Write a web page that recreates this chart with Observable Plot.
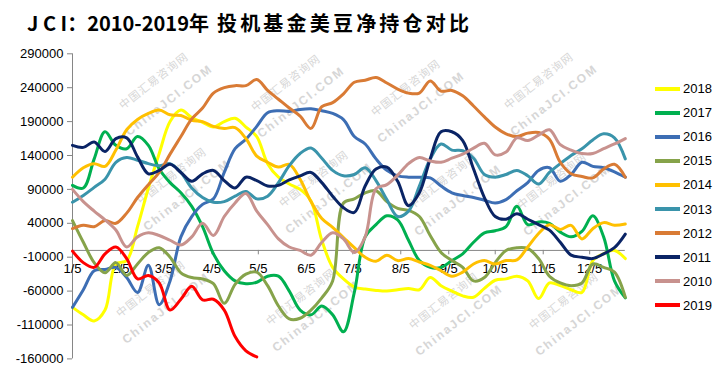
<!DOCTYPE html>
<html><head><meta charset="utf-8">
<script src="https://cdn.jsdelivr.net/npm/d3@7"></script>
<script src="https://cdn.jsdelivr.net/npm/@observablehq/plot@0.6"></script>
<style>
html,body{margin:0;padding:0;background:#fff;}
#wrap{position:relative;width:719px;height:389px;overflow:hidden;font-family:"Liberation Sans",Arial,sans-serif;}
#title{position:absolute;left:27px;top:12px;font-family:"Noto Sans CJK SC",sans-serif;font-weight:700;font-size:20px;line-height:22px;color:#000;white-space:nowrap;}
#title .a{letter-spacing:0px}
#title .b{letter-spacing:3.2px;margin-left:8px}
#wm{position:absolute;left:0;top:0;width:719px;height:389px;z-index:0;}
#wm div{position:absolute;color:#d6d6d6;white-space:nowrap;transform:translate(-50%,-50%) rotate(-38deg);}
#wm .cn{font-family:"Noto Sans CJK SC";font-size:11px;letter-spacing:1px}
#wm .en{font-family:"Liberation Sans";font-weight:bold;font-size:12px;letter-spacing:2px}
#chart{position:absolute;left:0;top:40px;z-index:1;}
#legend{position:absolute;left:0;top:0;z-index:2;}
#legend .row{position:absolute;left:655px;height:16px;display:flex;align-items:center;}
#legend .sw{width:25px;height:4px;}
#legend .lb{margin-left:3px;font-size:13px;color:#000;font-family:"Liberation Sans",Arial,sans-serif;}
</style>
</head><body>
<div id="wrap">
  <div id="wm"></div>
  <div id="title"><span class="a">J C I：2010-2019年</span><span class="b">投机基金美豆净持仓对比</span></div>
  <div id="chart"></div>
  <div id="legend"></div>
</div>
<script>
// ---- data ----
const weeks = ["01-05","01-12","01-19","01-26","02-02","02-09","02-16","02-23","03-02","03-09","03-16","03-23","03-30",
  "04-06","04-13","04-20","04-27","05-04","05-11","05-18","05-25","06-01","06-08","06-15","06-22","06-29",
  "07-06","07-13","07-20","07-27","08-03","08-10","08-17","08-24","08-31","09-07","09-14","09-21","09-28",
  "10-05","10-12","10-19","10-26","11-02","11-09","11-16","11-23","11-30","12-07","12-14","12-21","12-28"];
const xTickDates = ["01-05","02-05","03-05","04-05","05-05","06-05","07-05","08-05","09-05","10-05","11-05","12-05"];
const xTickLabels = ["1/5","2/5","3/5","4/5","5/5","6/5","7/5","8/5","9/5","10/5","11/5","12/5"];
const yTicks = [-160000,-110000,-60000,-10000,40000,90000,140000,190000,240000,290000];

const years = ["2018","2017","2016","2015","2014","2013","2012","2011","2010","2019"];
const colors = ["#FFFF00","#00B050","#3D6EB4","#86A34A","#FFC000","#3A94AB","#D97B35","#0A2465","#C8928E","#FF0000"];

const s2018 = [-84000,-95000,-104000,-88000,-20000,-15000,35000,92000,143000,190000,207000,196000,189000,182000,190000,195000,182000,168000,128000,108000,98000,90000,73000,15000,-25000,-42000,-54000,-57000,-59000,-60000,-58000,-56000,-58000,-40000,-52000,-60000,-67000,-69000,-56000,-44000,-42000,-38000,-45000,-71000,-48000,-52000,-58000,-62000,-15000,-5000,0,-12000];
const s2017 = [96000,92000,135000,175000,155000,150000,168000,155000,120000,100000,85000,65000,35000,-5000,-30000,-45000,-49000,-47000,-38000,-38000,-60000,-88000,-95000,-82000,-95000,-120000,-62000,20000,38000,51000,45000,15000,-15000,-25000,-25000,-15000,-5000,12000,26000,29000,35000,65000,38000,42000,40000,27000,20000,28000,51000,20000,-45000,-70000];
const s2016 = [-84000,-58000,-30000,-28000,-25000,-40000,-62000,-22000,-80000,-45000,20000,50000,68000,76000,115000,150000,164000,183000,203000,206000,205000,208000,209000,206000,202000,193000,168000,157000,135000,118000,110000,108000,108000,107000,95000,85000,81000,78000,74000,70000,75000,88000,100000,118000,122000,102000,112000,130000,124000,122000,116000,108000];
const s2015 = [44000,12000,-18000,-33000,-18000,-37000,-20000,-3000,4000,-10000,-33000,-40000,-42000,-49000,-78000,-50000,-35000,-32000,-52000,-82000,-101000,-100000,-88000,-70000,-45000,70000,76000,85000,88000,72000,62000,59000,50000,22000,-3000,-15000,-25000,-45000,-40000,-18000,0,4000,3000,-12000,-38000,-48000,-52000,-48000,-20000,-25000,-32000,-69000];
const s2014 = [108000,122000,128000,124000,148000,178000,193000,202000,207000,200000,199000,192000,190000,183000,180000,181000,165000,139000,130000,123000,127000,105000,72000,47000,34000,19000,4000,-10000,-16000,-7000,-15000,-12000,-17000,-22000,-30000,-38000,-32000,-20000,-15000,-20000,-15000,-14000,5000,25000,38000,31000,37000,17000,32000,41000,37000,39000];
const s2013 = [71000,81000,93000,105000,130000,137000,133000,128000,125000,128000,115000,92000,78000,71000,72000,80000,87000,76000,80000,100000,125000,143000,151000,136000,118000,110000,112000,122000,103000,75000,50000,58000,95000,135000,157000,148000,147000,136000,112000,108000,112000,118000,110000,98000,115000,128000,140000,150000,163000,172000,166000,135000];
const s2012 = [32000,37000,35000,44000,40000,55000,78000,97000,115000,142000,168000,194000,210000,232000,240000,243000,243000,252000,236000,223000,210000,198000,180000,212000,218000,231000,248000,251000,255000,247000,238000,232000,232000,250000,235000,236000,228000,213000,197000,182000,172000,168000,173000,174000,164000,130000,113000,109000,107000,120000,127000,108000];
const s2011 = [155000,152000,160000,146000,165000,166000,138000,113000,118000,127000,115000,102000,113000,118000,103000,92000,108000,103000,95000,96000,104000,110000,115000,100000,80000,63000,56000,95000,120000,123000,102000,66000,85000,135000,175000,175000,162000,120000,78000,50000,46000,54000,46000,38000,30000,12000,-7000,-10000,-12000,-5000,4000,24000];
const s2010 = [90000,72000,58000,45000,30000,5000,20000,26000,22000,15000,8000,20000,40000,22000,50000,70000,84000,58000,38000,17000,5000,0,-7000,12000,26000,17000,-3000,20000,91000,97000,111000,128000,137000,132000,130000,136000,142000,151000,158000,141000,145000,166000,162000,170000,178000,156000,148000,143000,143000,150000,157000,165000];
const s2019 = [-1000,-18000,-25000,-5000,5000,-12000,-42000,-37000,-48000,-88000,-72000,-53000,-73000,-72000,-88000,-127000,-148000,-157000];

const series = [s2018,s2017,s2016,s2015,s2014,s2013,s2012,s2011,s2010,s2019];

// ---- build table ----
const parse = d3.utcParse("%Y-%m-%d");
const dates = weeks.map(w => parse("2019-" + w));
const tickDates = xTickDates.map(w => parse("2019-" + w));
const rows = [];
years.forEach((y, i) => series[i].forEach((v, j) => rows.push({year: y, date: dates[j], value: v})));

const W = 719, H = 349;
const chart = Plot.plot({
  width: W, height: H,
  marginLeft: 72, marginRight: 94.2, marginTop: 13.3, marginBottom: 30.6,
  x: {type: "utc", domain: [dates[0], dates[dates.length - 1]], axis: null},
  y: {domain: [-160000, 290000]},
  color: {domain: years, range: colors},
  style: {fontFamily: "'Liberation Sans', Arial, sans-serif", fontSize: "13px", color: "#000", background: "transparent", overflow: "visible"},
  marks: [
    Plot.axisY({ticks: yTicks, tickSize: 5, tickPadding: 4, tickFormat: d => String(d), stroke: "#868686", fill: "#000", label: null, fontSize: 13}),
    Plot.ruleX([dates[0]], {stroke: "#868686", strokeWidth: 1}),
    Plot.ruleY([0], {stroke: "#868686", strokeWidth: 1}),
    Plot.ruleX(tickDates, {x: d => d, y1: 0, y2: -6500, stroke: "#868686"}),
    Plot.text(tickDates, {x: d => d, y: 0, text: (d, i) => xTickLabels[i], dy: 18, fontSize: 13, fill: "#000"}),
    Plot.line(rows, {x: "date", y: "value", z: "year", stroke: "year", strokeWidth: 3, curve: "catmull-rom"})
  ]
});
document.getElementById("chart").appendChild(chart);

// ---- legend ----
const legend = document.getElementById("legend");
years.forEach((y, i) => {
  const row = document.createElement("div");
  row.className = "row";
  row.style.top = (88.5 + 24.1 * i - 8) + "px";
  row.innerHTML = `<div class="sw" style="background:${colors[i]}"></div><div class="lb">${y}</div>`;
  legend.appendChild(row);
});

// ---- watermark ----
const wm = document.getElementById("wm");
const wmSpots = [[153,80],[285,82],[405,87],[538,80],[171,175],[313,178],[442,180],[551,180],[150,288],[300,296],[443,300],[563,300]];
wmSpots.forEach(([cx, cy]) => {
  const a = document.createElement("div"); a.className = "cn"; a.textContent = "中国汇易咨询网";
  a.style.left = cx + "px"; a.style.top = cy + "px"; wm.appendChild(a);
  const b = document.createElement("div"); b.className = "en"; b.textContent = "ChinaJCI.COM";
  b.style.left = (cx + 16) + "px"; b.style.top = (cy + 20) + "px"; wm.appendChild(b);
});
</script>
</body></html>
